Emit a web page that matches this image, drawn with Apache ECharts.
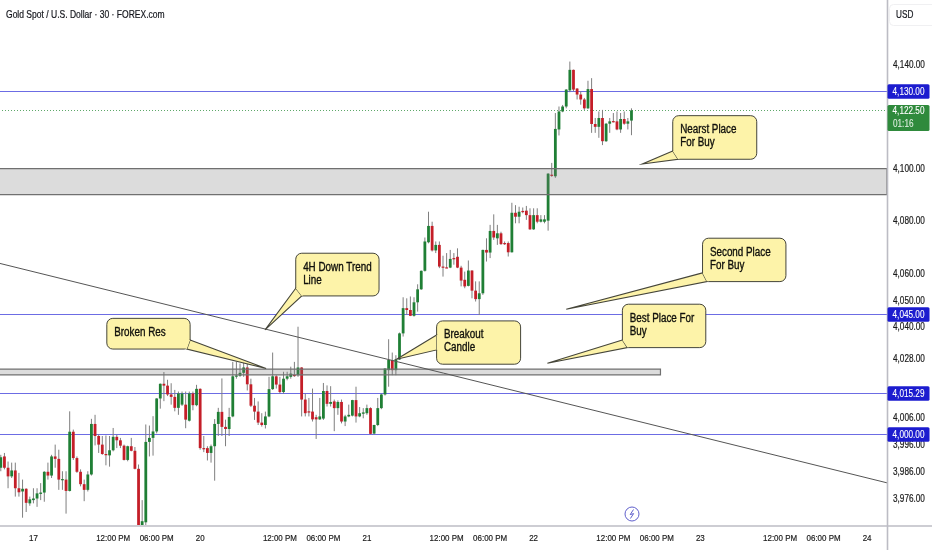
<!DOCTYPE html>
<html><head><meta charset="utf-8">
<style>html,body{margin:0;padding:0;background:#fff}#c{width:932px;height:550px}</style>
<script src="https://cdn.jsdelivr.net/npm/echarts@6/dist/echarts.min.js"></script>
</head><body><div id="c"></div>
<script>
// [open, close, low, high] per 30-minute candle, split by session
const candles17 = [[3987.6,3991.5,3986.3,3992.4],[3991.8,3987.6,3987.0,3993.1],[3987.6,3984.4,3980.0,3989.9],[3984.4,3986.6,3983.8,3989.5],[3986.6,3980.0,3976.9,3989.5],[3980.0,3978.5,3976.9,3985.7],[3978.8,3979.8,3969.1,3983.2],[3979.8,3974.6,3971.2,3980.0],[3974.4,3975.9,3973.5,3976.9],[3975.6,3976.2,3974.4,3980.0],[3976.2,3978.1,3973.1,3980.0],[3977.9,3978.4,3975.6,3981.9],[3978.4,3986.1,3975.0,3986.3],[3986.1,3984.7,3983.2,3989.5],[3984.7,3991.8,3983.8,3992.4],[3991.8,3990.9,3987.6,3996.2],[3990.9,3983.2,3979.4,3994.3],[3983.2,3983.4,3979.4,3986.3],[3983.2,3979.0,3970.6,3986.3],[3979.0,4001.0,3978.8,4008.6],[4001.0,3991.2,3990.5,4001.8],[3991.2,3986.1,3985.7,3991.8],[3986.1,3981.5,3980.7,3987.0],[3981.5,3979.4,3975.2,3983.2],[3979.4,3985.1,3978.8,3986.3],[3985.1,4003.9,3984.7,4005.8],[4003.9,3999.4,3995.9,4007.3],[3999.4,3996.2,3993.1,4000.0],[3996.2,3992.7,3992.4,3999.4],[3992.7,3992.5,3988.5,3999.6],[3992.2,3994.1,3988.0,3999.4],[3994.1,3999.1,3993.7,4002.4],[3999.1,3997.8,3994.9,3999.9],[3997.8,3995.8,3994.9,3998.7],[3995.8,3990.5,3990.3,3996.2],[3990.5,3995.6,3990.0,3995.8],[3995.6,3993.9,3993.7,3998.7],[3993.9,3987.2,3987.0,3995.3],[3987.2,3965.0,3964.0,3988.8],[3965.5,3967.8,3964.0,3975.6],[3967.4,3997.2,3965.0,4003.7],[3997.2,3998.7,3991.8,4003.3],[3998.7,4001.1,3992.1,4006.8],[4001.1,4013.4,4000.4,4013.5],[4013.4,4018.9,4009.6,4019.0],[4018.9,4018.2,4012.4,4023.3],[4018.2,4014.9,4014.3,4020.4],[4014.9,4014.0,4011.1,4019.1],[4014.0,4009.9,4008.6,4016.6],[4009.9,4015.3,4007.3,4016.0],[4011.1,4015.3,4010.6,4016.0],[4011.1,4005.5,4002.3,4016.0],[4005.1,4015.3,4004.8,4016.0],[4015.3,4010.9,4009.0,4016.0],[4010.9,4017.0,4010.5,4018.5]];
const candles20 = [[4017.0,3994.9,3994.3,4017.2],[3994.9,3994.7,3993.4,3999.4],[3994.9,3993.1,3990.3,3995.6],[3993.1,3995.6,3989.5,3996.2],[3995.6,4003.9,3982.8,4005.7],[4003.9,4008.4,3999.4,4009.9],[4008.4,4002.8,3999.4,4020.9],[4002.8,4002.0,3995.6,4005.5],[4002.0,4006.5,3999.4,4009.9],[4006.7,4021.7,4006.4,4027.1],[4021.7,4022.0,4020.8,4027.1],[4021.9,4023.0,4021.5,4026.5],[4023.0,4025.0,4021.5,4027.1],[4025.0,4018.7,4016.4,4026.5],[4018.7,4010.7,4010.2,4020.8],[4010.7,4008.5,4005.4,4013.6],[4008.5,4004.4,4003.5,4012.3],[4004.4,4003.5,4002.9,4007.9],[4003.5,4006.7,4002.2,4008.5],[4006.7,4016.9,4006.4,4021.5],[4016.9,4021.7,4016.6,4030.6],[4021.7,4018.6,4017.1,4022.1],[4018.6,4015.8,4015.2,4021.5],[4015.8,4020.8,4015.2,4023.4],[4020.8,4021.7,4020.2,4023.4],[4021.5,4022.7,4020.8,4025.3],[4022.2,4022.1,4021.5,4027.1],[4022.1,4025.0,4021.5,4040.3],[4025.0,4013.0,4006.7,4025.1],[4013.0,4007.9,4006.7,4015.2],[4008.6,4008.5,4006.7,4013.6],[4008.5,4005.6,4004.8,4017.1],[4006.4,4005.6,3998.3,4007.3],[4005.6,4006.7,4005.4,4013.6],[4005.9,4016.2,4005.4,4019.2],[4016.2,4011.4,4010.4,4018.3],[4011.4,4012.1,4010.4,4018.0],[4012.3,4009.8,4001.2,4013.0],[4009.8,4012.1,4007.3,4012.7],[4012.1,4004.8,4004.1,4013.0],[4004.8,4006.7,4003.1,4007.3],[4006.7,4007.3,4006.4,4011.1],[4007.0,4012.8,4006.7,4012.9],[4012.8,4006.7,4004.4,4017.8],[4006.7,4007.9,4006.4,4010.2],[4007.7,4008.2,4006.0,4009.8]];
const candles21 = [[4007.9,4009.8,4007.3,4011.1],[4009.8,4000.2,3999.9,4010.1],[4000.3,4003.5,3999.9,4003.6],[4003.5,4009.8,4003.1,4013.6],[4009.8,4014.9,4009.4,4015.2],[4014.9,4024.6,4014.5,4024.7],[4024.0,4027.8,4017.8,4035.6],[4027.8,4024.0,4022.1,4030.6],[4024.0,4028.0,4022.1,4029.6],[4028.0,4037.8,4027.8,4038.1],[4037.8,4047.3,4036.6,4051.4],[4047.3,4046.6,4044.7,4051.0],[4046.6,4044.4,4044.3,4051.7],[4044.4,4049.5,4044.1,4051.4],[4049.5,4054.4,4046.0,4056.3],[4054.4,4061.4,4054.2,4061.5],[4061.4,4072.5,4061.1,4074.0],[4072.2,4078.4,4071.8,4083.8],[4078.4,4069.1,4068.7,4080.0],[4069.1,4071.2,4068.1,4072.5],[4071.2,4063.0,4062.4,4072.5],[4063.0,4062.6,4059.2,4067.1],[4062.7,4062.6,4062.4,4068.1],[4062.6,4065.9,4062.4,4069.3],[4066.2,4066.1,4063.7,4068.1],[4066.7,4062.6,4062.4,4069.9],[4062.6,4057.7,4055.5,4063.3],[4058.0,4055.5,4054.8,4061.1],[4055.7,4061.5,4055.5,4065.3],[4061.5,4053.9,4051.0,4061.6],[4053.9,4050.7,4049.8,4057.4],[4050.7,4052.9,4044.7,4057.4],[4052.9,4069.3,4052.3,4069.4],[4069.3,4068.3,4064.9,4073.7],[4068.3,4076.5,4066.2,4078.8],[4076.5,4074.0,4073.1,4082.8],[4073.7,4075.6,4071.2,4078.8],[4075.6,4071.5,4071.2,4076.2],[4071.9,4071.8,4071.2,4072.5],[4071.9,4068.4,4066.8,4072.5],[4068.4,4083.4,4068.3,4087.2],[4083.4,4081.9,4079.4,4086.3],[4081.9,4083.8,4079.4,4085.7],[4084.1,4084.0,4083.2,4085.4],[4084.2,4082.5,4080.7,4086.0],[4082.5,4077.1,4076.9,4085.1]];
const candles22 = [[4077.1,4082.5,4076.9,4085.1],[4082.5,4080.0,4079.4,4085.1],[4080.0,4080.9,4079.7,4082.5],[4080.0,4080.9,4079.4,4082.5],[4080.4,4098.3,4076.6,4098.5],[4097.9,4097.5,4097.1,4102.4],[4097.3,4115.4,4096.7,4121.5],[4115.2,4122.1,4112.9,4124.0],[4122.1,4124.0,4121.8,4124.6],[4124.0,4130.5,4123.3,4130.7],[4130.2,4138.1,4129.5,4141.3],[4138.1,4130.5,4129.8,4138.2],[4130.9,4128.6,4126.7,4131.1],[4128.6,4126.7,4124.7,4129.8],[4126.7,4123.3,4122.7,4127.3],[4123.3,4130.7,4123.0,4133.9],[4130.7,4117.3,4113.9,4134.9],[4117.3,4116.2,4113.9,4119.6],[4116.2,4119.6,4112.0,4122.1],[4119.6,4110.7,4109.2,4122.7],[4110.7,4117.4,4110.4,4117.7],[4117.4,4118.3,4113.9,4119.6],[4118.4,4118.3,4117.9,4121.5],[4118.3,4115.2,4114.9,4122.1],[4115.2,4119.2,4113.9,4121.5],[4119.2,4117.4,4117.0,4122.1],[4117.4,4118.3,4115.2,4119.6],[4118.6,4122.5,4113.0,4123.3]];

const categoryCount = 245;
const timeLabels = [[9,'17'],[31,'12:00 PM'],[43,'06:00 PM'],[55,'20'],[77,'12:00 PM'],[89,'06:00 PM'],[101,'21'],[123,'12:00 PM'],[135,'06:00 PM'],[147,'22'],[169,'12:00 PM'],[181,'06:00 PM'],[193,'23'],[215,'12:00 PM'],[227,'06:00 PM'],[239,'24']];
const priceTicks = [4140,4100,4080,4060,4050,4040,4028,4006,3996,3986,3976];
const priceLevels = [4130,4045,4015.29,4000];
const lastPrice = [4122.5];
const lastCountdown = '01:16';
const priceZones = [[-1,4100.2,244.5,4090.3],[-1,4024.4,182,4022.2]];
const trendLine = [[-0.3,4064.2],[244.5,3982.0]];
const calloutTips = [[73.2,4024.6],[72.9,4039.1],[109.2,4028.1],[177.0,4102.0],[156.0,4046.9],[150.8,4026.6]];
const calloutTexts = ['Broken Res','4H Down Trend\nLine','Breakout\nCandle','Nearst Place\nFor Buy','Second Place\nFor Buy','Best Place For\nBuy'];
const titleText = 'Gold Spot / U.S. Dollar · 30 · FOREX.com';
const currencyText = 'USD';

const FONT = '"Liberation Sans",Arial,sans-serif';
const SQUEEZE = 0.82;
// callout box / tail geometry in px relative to each tip
const calloutShapes = [
  {x:-159.3,y:-50.2,w:83.3,h:30.7,a:[-76,-28.5],b:[-79.3,-19.5]},
  {x:30.7,y:-76.7,w:83.3,h:42.7,a:[30.7,-41.7],b:[36.7,-34]},
  {x:40,y:-38.3,w:84,h:43.3,a:[40,-24.3],b:[40,-9.3]},
  {x:30.4,y:-48.3,w:84,h:43.6,a:[30.4,-13],b:[35.7,-4.7]},
  {x:136.3,y:-71,w:83.4,h:43.4,a:[136.3,-36.3],b:[140.7,-27.6]},
  {x:75,y:-59,w:83.4,h:43.4,a:[75,-23.3],b:[80,-15.6]}
];

const allCandles = candles17.concat(candles20, candles21, candles22);
const categories = new Array(categoryCount).fill('');
timeLabels.forEach(t => { categories[t[0]] = t[1]; });
const money = v => v.toLocaleString('en-US',{minimumFractionDigits:2,maximumFractionDigits:2});
const squeezed = (text,x,y,o) => Object.assign({type:'text',x:x,y:y,scaleX:SQUEEZE,silent:true,
  style:Object.assign({text:text,x:0,y:0,fontFamily:FONT,fontSize:10,fill:'#1a1a1a',stroke:'#1a1a1a',lineWidth:0.2,verticalAlign:'middle',align:'left'},o||{})});
const crisp = y => Math.round(y)+0.5;

const chart = echarts.init(document.getElementById('c'), null, {renderer:'canvas'});
const clipRect = p => ({x:p.coordSys.x,y:p.coordSys.y,width:p.coordSys.width,height:p.coordSys.height});

chart.setOption({
  animation:false,
  backgroundColor:'#ffffff',
  grid:{left:-1,top:0,width:888,height:525,containLabel:false,outerBoundsMode:'none'},
  xAxis:[
    {type:'category',data:categories,boundaryGap:true,
     axisLine:{show:false},axisTick:{show:false},splitLine:{show:false},axisLabel:{show:false}},
    {type:'value',min:-0.5,max:244.5,show:false}
  ],
  yAxis:{type:'log',logBase:10,position:'right',min:3966.4,max:4165.1,scale:true,
     axisLine:{show:false},axisTick:{show:false},splitLine:{show:false},axisLabel:{show:false}},
  series:[
    {type:'custom',name:'yTickLabels',xAxisIndex:1,z:1,silent:true,data:priceTicks.map(v=>[244.5,v]),encode:{x:0,y:1},
     renderItem:(p,api)=>{const a=api.coord([244.5,api.value(1)]);
       return squeezed(money(api.value(1)),a[0]+6,a[1]);}},
    {type:'custom',name:'xTickLabels',xAxisIndex:0,z:1,silent:true,data:timeLabels.map(t=>[t[0],3966.4]),encode:{x:0,y:1},
     renderItem:(p,api)=>{const a=api.coord([api.value(0),api.value(1)]);
       return squeezed(categories[api.value(0)],a[0],a[1]+13,{align:'center',fontSize:9.7});}},
    {type:'custom',name:'levels',xAxisIndex:1,z:1,silent:true,data:priceLevels.map(v=>[0,v]),encode:{x:0,y:1},
     renderItem:(p,api)=>{const a=api.coord([-0.5,api.value(1)]),b=api.coord([244.5,api.value(1)]),y=crisp(a[1]);
       return {type:'line',shape:{x1:a[0],y1:y,x2:b[0],y2:y},style:{stroke:'#6c6ce4',lineWidth:1.2}};}},
    {type:'custom',name:'last',xAxisIndex:1,z:1,silent:true,data:lastPrice.map(v=>[0,v]),encode:{x:0,y:1},
     renderItem:(p,api)=>{const a=api.coord([-0.5,api.value(1)]),b=api.coord([244.5,api.value(1)]),y=crisp(a[1]);
       return {type:'line',shape:{x1:a[0],y1:y,x2:b[0],y2:y},style:{stroke:'#5fa86a',lineWidth:1,lineDash:[1,2]}};}},
    {type:'custom',name:'candles',xAxisIndex:0,z:3,silent:true,clip:true,
     data:allCandles.map((c,i)=>[i,c[0],c[1],c[2],c[3]]),encode:{x:0,y:[1,2,3,4]},
     renderItem:(p,api)=>{
       const i=api.value(0),o=api.value(1),c=api.value(2),l=api.value(3),h=api.value(4);
       const po=api.coord([i,o]),pc=api.coord([i,c]),pl=api.coord([i,l]),ph=api.coord([i,h]);
       const up=c>=o,top=Math.min(po[1],pc[1]),hgt=Math.max(1.2,Math.abs(po[1]-pc[1]));
       const col=up?'#1f7f35':'#c41e28';
       return {type:'group',clipPath:{type:'rect',shape:clipRect(p)},children:[
         {type:'line',shape:{x1:po[0],y1:ph[1],x2:po[0],y2:pl[1]},style:{stroke:'#7f7f7f',lineWidth:1}},
         {type:'rect',shape:{x:po[0]-1.4,y:top,width:2.8,height:hgt},style:{fill:col,stroke:null}}
       ]};
     }},
    {type:'custom',name:'zones',xAxisIndex:1,z:4,silent:true,data:priceZones,encode:{x:[0,2],y:[1,3]},
     renderItem:(p,api)=>{const a=api.coord([api.value(0),api.value(1)]),b=api.coord([api.value(2),api.value(3)]);
       return {type:'rect',shape:{x:a[0],y:a[1],width:b[0]-a[0],height:b[1]-a[1]},
         style:{fill:'rgba(120,120,120,0.26)',stroke:'#707070',lineWidth:1.2}};}},
    {type:'line',name:'trend',xAxisIndex:1,z:5,silent:true,data:trendLine,symbol:'none',lineStyle:{color:'#555555',width:1}},
    {type:'custom',name:'callouts',xAxisIndex:1,z:6,silent:true,
     data:calloutTips.map((t,i)=>[t[0],t[1],i]),encode:{x:0,y:1},
     renderItem:(p,api)=>{
       const i=api.value(2),t=api.coord([api.value(0),api.value(1)]),s=calloutShapes[i];
       const bx=t[0]+s.x,by=t[1]+s.y;
       const A=[t[0]+s.a[0],t[1]+s.a[1]],B=[t[0]+s.b[0],t[1]+s.b[1]];
       const fill='#fdf3a9',st='#45453a';
       return {type:'group',children:[
         {type:'rect',shape:{x:bx,y:by,width:s.w,height:s.h,r:6},style:{fill:fill,stroke:st,lineWidth:1}},
         {type:'polygon',shape:{points:[A,t,B]},style:{fill:fill,stroke:st,lineWidth:1.1}},
         {type:'polygon',shape:{points:[A,B,[bx+s.w/2,by+s.h/2]]},style:{fill:fill,stroke:null}},
         squeezed(calloutTexts[i],bx+7.4,by+7.6,{fill:'#10100c',stroke:'#10100c',lineWidth:0.35,fontSize:12,lineHeight:13,verticalAlign:'top'})
       ]};
     }},
    {type:'custom',name:'levelTags',xAxisIndex:1,z:8,silent:true,data:priceLevels.map(v=>[0,v]),encode:{x:0,y:1},
     renderItem:(p,api)=>{const a=api.coord([244.5,api.value(1)]),y=crisp(a[1]);
       return {type:'group',children:[
         {type:'rect',shape:{x:887.5,y:y-7.3,width:42,height:14.6,r:1.5},style:{fill:'#1c1ccf'}},
         squeezed(money(api.value(1)),908.5,y+0.3,{fill:'#ffffff',stroke:'#ffffff',lineWidth:0.1,align:'center'})
       ]};}},
    {type:'custom',name:'lastTag',xAxisIndex:1,z:8,silent:true,data:lastPrice.map(v=>[0,v]),encode:{x:0,y:1},
     renderItem:(p,api)=>{const a=api.coord([244.5,api.value(1)]);
       return {type:'group',children:[
         {type:'rect',shape:{x:887.5,y:a[1]-5.5,width:42,height:26,r:1.5},style:{fill:'#2f8a3c'}},
         squeezed(money(api.value(1)),908.5,a[1]+1,{fill:'#ffffff',stroke:'#ffffff',lineWidth:0.1,align:'center'}),
         squeezed(lastCountdown,893,a[1]+13.5,{fill:'#dfeee0',stroke:'#dfeee0',lineWidth:0.1})
       ]};}}
  ],
  graphic:[
    {type:'line',z:7,silent:true,shape:{x1:887.5,y1:0,x2:887.5,y2:550},style:{stroke:'#bcbcc4',lineWidth:1.6}},
    {type:'line',z:7,silent:true,shape:{x1:0,y1:526,x2:932,y2:526},style:{stroke:'#bcbcc4',lineWidth:1.4}},
    {type:'text',z:9,silent:true,x:6,y:15,scaleX:SQUEEZE,style:{text:titleText,fill:'#14161c',stroke:'#14161c',lineWidth:0.2,fontFamily:FONT,fontSize:10.4,verticalAlign:'middle'}},
    {type:'rect',z:9,silent:true,shape:{x:889.5,y:4.5,width:50,height:21,r:4},style:{fill:'#ffffff',stroke:'#f0f0f2',lineWidth:1}},
    {type:'text',z:10,silent:true,x:896,y:15.5,scaleX:SQUEEZE,style:{text:currencyText,fill:'#14161c',stroke:'#14161c',lineWidth:0.2,fontFamily:FONT,fontSize:10,verticalAlign:'middle'}},
    {type:'circle',z:9,silent:true,shape:{cx:632,cy:514,r:7},style:{fill:'#ffffff',stroke:'#6060cc',lineWidth:1}},
    {type:'polyline',z:10,silent:true,shape:{points:[[633.5,509.5],[630.2,514.6],[633.6,513.6],[630.4,518.5]]},style:{fill:null,stroke:'#6060cc',lineWidth:1}}
  ]
});
</script></body></html>
